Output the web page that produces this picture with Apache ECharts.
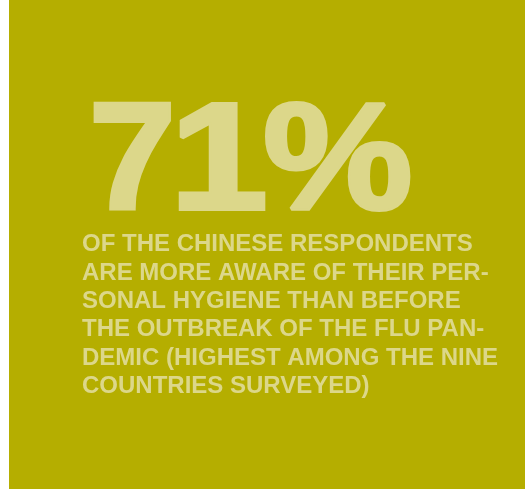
<!DOCTYPE html>
<html>
<head>
<meta charset="utf-8">
<script src="https://cdn.jsdelivr.net/npm/echarts@6/dist/echarts.min.js"></script>
<style>
html,body{margin:0;padding:0;background:#fff;}
#main{width:525px;height:489px;}
</style>
</head>
<body>
<div id="main"></div>
<script>
// headline number and the caption lines under it
var share = 71;
var captionLines = [
    'OF THE CHINESE RESPONDENTS',
    'ARE MORE AWARE OF THEIR PER-',
    'SONAL HYGIENE THAN BEFORE',
    'THE OUTBREAK OF THE FLU PAN-',
    'DEMIC (HIGHEST AMONG THE NINE',
    'COUNTRIES SURVEYED)'
];

var bg = '#b5ae00';
var fg = '#dcd78a';

var myChart = echarts.init(document.getElementById('main'));
var elements = [{
    type: 'rect',
    shape: {x: 9, y: 0, width: 516, height: 489},
    style: {fill: bg},
    silent: true
}];
// the big figure is set glyph by glyph so it can be spread out like the heavy display face
var glyphs = (share + '%').split('');
var glyphX = [89, 170, 263];
var glyphScale = [1.02, 1.15, 1.1];
for (var g = 0; g < glyphs.length; g++) {
    elements.push({
        type: 'text',
        x: glyphX[g],
        y: 167,
        scaleX: glyphScale[g],
        style: {
            text: glyphs[g],
            font: 'bold 153px "Liberation Sans", Arial, sans-serif',
            fill: fg,
            stroke: fg,
            lineWidth: 4,
            verticalAlign: 'middle',
            align: 'left'
        }
    });
}
for (var i = 0; i < captionLines.length; i++) {
    elements.push({
        type: 'text',
        x: 82,
        y: 244.5 + i * 28.4,
        style: {
            text: captionLines[i],
            font: 'bold 24px "Liberation Sans", Arial, sans-serif',
            fill: fg,
            verticalAlign: 'middle',
            align: 'left'
        }
    });
}
var option = {
    backgroundColor: '#fff',
    animation: false,
    graphic: {elements: elements}
};
myChart.setOption(option);
</script>
</body>
</html>
